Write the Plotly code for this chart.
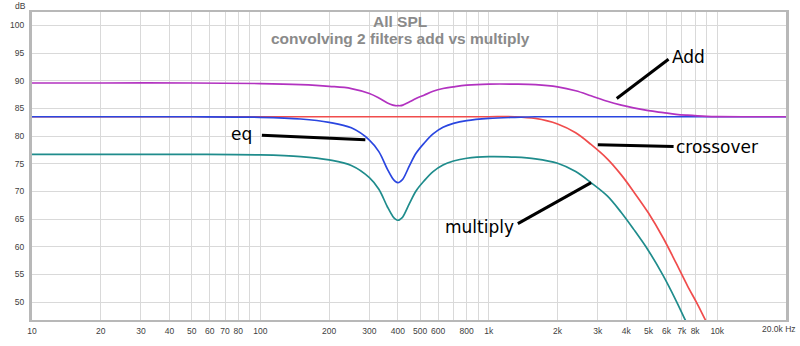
import numpy as np
import plotly.graph_objects as go

# ---------------- data ----------------
freq_hz = [10, 20, 50, 100, 150, 200, 250, 300, 330, 360, 380, 390, 400, 410, 420,
           450, 480, 520, 570, 630, 700, 800, 1000, 1300, 1600, 2000, 2400, 2800,
           3300, 3800, 4300, 5000, 5800, 6600, 7400, 8200, 9000, 10000, 13000, 20000]

add_db = [89.6, 89.6, 89.6, 89.5, 89.3, 89.0, 88.6, 87.7, 86.9, 86.0, 85.6, 85.5, 85.5,
          85.5, 85.6, 86.2, 86.8, 87.4, 88.1, 88.6, 88.9, 89.2, 89.4, 89.4,
          89.3, 88.9, 88.2, 87.3, 86.3, 85.6, 85.1, 84.6, 84.25, 83.95, 83.78, 83.66,
          83.58, 83.53, 83.5, 83.5]

crossover_db = [83.5, 83.5, 83.5, 83.5, 83.5, 83.5, 83.5, 83.5, 83.5, 83.5, 83.5, 83.5,
                83.5, 83.5, 83.5, 83.5, 83.5, 83.5, 83.5, 83.5, 83.5, 83.5, 83.5, 83.5,
                83.2, 82.2, 80.6, 78.5, 75.9, 73.0, 70.0, 66.1, 61.6, 57.1, 53.0, 49.6,
                46.3, 42.8, 34.0, 19.5]

eq_db = [83.5, 83.5, 83.5, 83.4, 83.1, 82.5, 81.5, 79.3, 77.2, 74.0, 72.3, 71.8, 71.6,
         71.8, 72.2, 74.7, 76.9, 78.7, 80.4, 81.6, 82.3, 82.8, 83.2, 83.4,
         83.5, 83.5, 83.5, 83.5, 83.5, 83.5, 83.5, 83.5, 83.5, 83.5, 83.5, 83.5,
         83.5, 83.5, 83.5, 83.5]

multiply_db = [76.7, 76.7, 76.7, 76.6, 76.3, 75.7, 74.7, 72.5, 70.4, 67.2, 65.5, 65.0,
               64.8, 65.0, 65.4, 67.9, 70.1, 71.9, 73.6, 74.8, 75.5, 76.0, 76.3, 76.2,
               75.9, 75.1, 73.6, 71.6, 69.2, 66.2, 63.2, 59.3, 54.8, 50.3, 46.0, 42.5,
               39.0, 35.4, 27.0, 12.5]

x_tick_vals = [10, 20, 30, 40, 50, 60, 70, 80, 90, 100, 200, 300, 400, 500, 600, 700,
               800, 900, 1000, 2000, 3000, 4000, 5000, 6000, 7000, 8000, 9000, 10000]
x_tick_text = ["10", "20", "30", "40", "50", "60", "70", "80", "", "100", "200", "300",
               "400", "500", "600", "", "800", "", "1k", "2k", "3k", "4k", "5k", "6k",
               "7k", "8k", "", "10k"]
x_end_label = "20.0k Hz"
y_tick_vals = [50, 55, 60, 65, 70, 75, 80, 85, 90, 95, 100]

# ---------------- styling ----------------
col_add = "#b232c0"
col_xo = "#f04c4c"
col_eq = "#2a46e0"
col_mul = "#1f8c8c"

fig = go.Figure()

def add_curve(y, color):
    fig.add_trace(go.Scatter(
        x=freq_hz, y=y, mode="lines",
        line=dict(color=color, width=1.7, shape="spline", smoothing=1.0),
        hoverinfo="skip", showlegend=False))

add_curve(crossover_db, col_xo)
add_curve(multiply_db, col_mul)
add_curve(eq_db, col_eq)
add_curve(add_db, col_add)

# pointer lines for the hand-written labels (freq, dB)
pointers = [
    ([6120, 3630], [93.9, 86.8]),   # Add
    ([3000, 6440], [78.45, 78.15]), # crossover
    ([1340, 2805], [64.2, 71.6]),   # multiply
    ([101.5, 288], [80.15, 79.35]), # eq
]
for px, py in pointers:
    fig.add_trace(go.Scatter(x=px, y=py, mode="lines",
                             line=dict(color="black", width=3),
                             hoverinfo="skip", showlegend=False))

label_font = dict(family="DejaVu Sans", size=17, color="black")
labels = [
    ("Add", 6240, 94.3, "left"),
    ("crossover", 6450, 78.1, "left"),
    ("multiply", 1315, 63.6, "right"),
    ("eq", 93.5, 80.4, "right"),
]
annotations = []
for txt, fx, fy, anchor in labels:
    annotations.append(dict(text=txt, x=np.log10(fx), y=fy, xref="x", yref="y",
                            xanchor=anchor, yanchor="middle", showarrow=False,
                            font=label_font))

title_font = dict(family="Liberation Sans", size=15.5, color="#8a8a8a")
annotations.append(dict(text="<b>All SPL</b>", x=0.4887, y=0.969, xref="paper", yref="paper",
                        xanchor="center", yanchor="middle", showarrow=False, font=title_font))
annotations.append(dict(text="<b>convolving 2 filters add vs multiply</b>", x=0.4887, y=0.9125,
                        xref="paper", yref="paper", xanchor="center", yanchor="middle",
                        showarrow=False, font=title_font))

tick_font = dict(family="Liberation Sans", size=8.5, color="#404040")
annotations.append(dict(text="dB", x=-0.0159, y=1.019, xref="paper", yref="paper",
                        xanchor="center", yanchor="middle", showarrow=False, font=tick_font))
annotations.append(dict(text=x_end_label, x=1.0165, y=-0.028, xref="paper", yref="paper",
                        xanchor="right", yanchor="middle", showarrow=False, font=tick_font))

fig.update_layout(
    width=800, height=346,
    margin=dict(l=31, r=14, t=10, b=16),
    paper_bgcolor="white", plot_bgcolor="white",
    annotations=annotations,
    xaxis=dict(type="log", range=[1, np.log10(20000)],
               tickvals=x_tick_vals, ticktext=x_tick_text, tickfont=tick_font,
               showgrid=True, gridcolor="#d9d9d9", gridwidth=1,
               showline=True, linecolor="#b8b8b8", linewidth=2, mirror=True,
               ticks="", zeroline=False, ticklabelstandoff=2),
    yaxis=dict(range=[46.78, 102.43], tickvals=y_tick_vals, tickfont=tick_font,
               showgrid=True, gridcolor="#d9d9d9", gridwidth=1,
               showline=True, linecolor="#b8b8b8", linewidth=3, mirror=True,
               ticks="", zeroline=False, ticklabelstandoff=3),
)

fig.write_html("out.html")
